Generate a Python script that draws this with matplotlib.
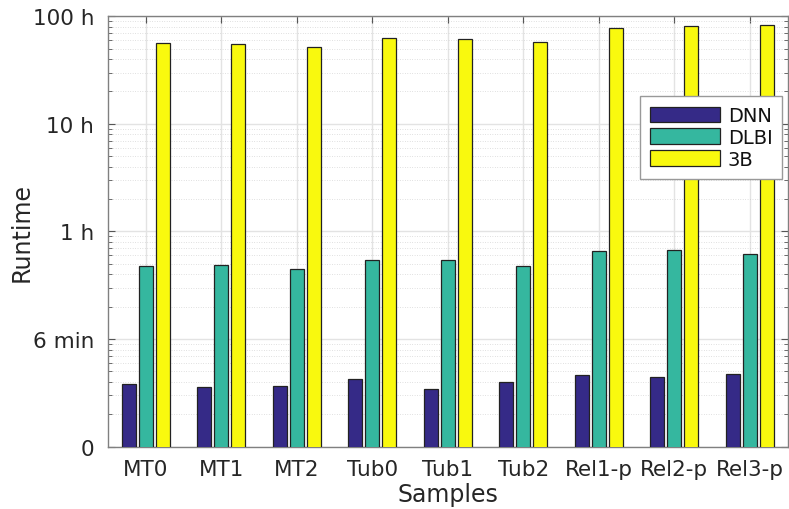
import numpy as np
import matplotlib.pyplot as plt
from matplotlib.ticker import LogLocator, NullFormatter

samples = ['MT0', 'MT1', 'MT2', 'Tub0', 'Tub1', 'Tub2', 'Rel1-p', 'Rel2-p', 'Rel3-p']
# runtimes in hours
dnn = [0.0383, 0.0361, 0.0366, 0.0423, 0.0346, 0.0402, 0.0467, 0.0447, 0.0477]
dlbi = [0.475, 0.492, 0.446, 0.543, 0.540, 0.481, 0.659, 0.678, 0.622]
threeb = [56.1, 55.6, 52.2, 63.2, 61.5, 58.1, 77.3, 80.7, 83.6]
series_names = ['DNN', 'DLBI', '3B']
colors = ['#352A87', '#35B79F', '#F9F90E']

ytick_vals = [0.01, 0.1, 1, 10, 100]
ytick_labels = ['0', '6 min', '1 h', '10 h', '100 h']

txt = '#262626'
plt.rcParams['font.family'] = 'DejaVu Sans'

fig = plt.figure(figsize=(7.89, 5.10), dpi=100)
ax = fig.add_axes([0.1369, 0.1222, 0.8612, 0.8439])
ax.set_yscale('log')

x = np.arange(1, len(samples) + 1)
offsets = [-0.225, 0, 0.225]
w = 0.19
for vals, off, c, name in zip([dnn, dlbi, threeb], offsets, colors, series_names):
    ax.bar(x + off, vals, width=w, color=c, edgecolor='#222222',
           linewidth=0.9, label=name, zorder=3)

ax.set_ylim(0.01, 100)
ax.set_xlim(0.5, 9.5)
ax.set_yticks(ytick_vals)
ax.set_yticklabels(ytick_labels)
ax.yaxis.set_minor_locator(LogLocator(base=10, subs=np.arange(2, 10)))
ax.yaxis.set_minor_formatter(NullFormatter())
ax.set_xticks(x)
ax.set_xticklabels(samples)

ax.grid(True, which='major', color='#e3e3e3', linewidth=1.0, zorder=0)
ax.grid(True, which='minor', axis='y', color='#c4c4c4', linestyle=(0, (1, 2.5)),
        linewidth=0.5, zorder=0)
ax.set_axisbelow(True)

ax.tick_params(which='both', direction='in', top=True, right=True, colors='#555555',
               labelcolor=txt, labelsize=15.5)
ax.tick_params(which='major', length=5)
ax.tick_params(which='minor', length=3)
ax.tick_params(axis='x', pad=9)
ax.tick_params(axis='y', pad=10)
for s in ax.spines.values():
    s.set_color('#808080')
    s.set_linewidth(1.0)

ax.set_xlabel('Samples', fontsize=17, color=txt, labelpad=2)
ax.set_ylabel('Runtime', fontsize=17, color=txt, labelpad=-1)

leg = ax.legend(loc='upper right', bbox_to_anchor=(0.9925, 0.814), fontsize=14,
                fancybox=False, framealpha=1, edgecolor='#999999',
                handlelength=3.6, handleheight=0.85, handletextpad=0.4,
                labelspacing=0.15, borderpad=0.5, borderaxespad=0)
leg.get_frame().set_linewidth(1.0)
for t in leg.get_texts():
    t.set_color('#111111')

fig.savefig('out.png', dpi=100)
